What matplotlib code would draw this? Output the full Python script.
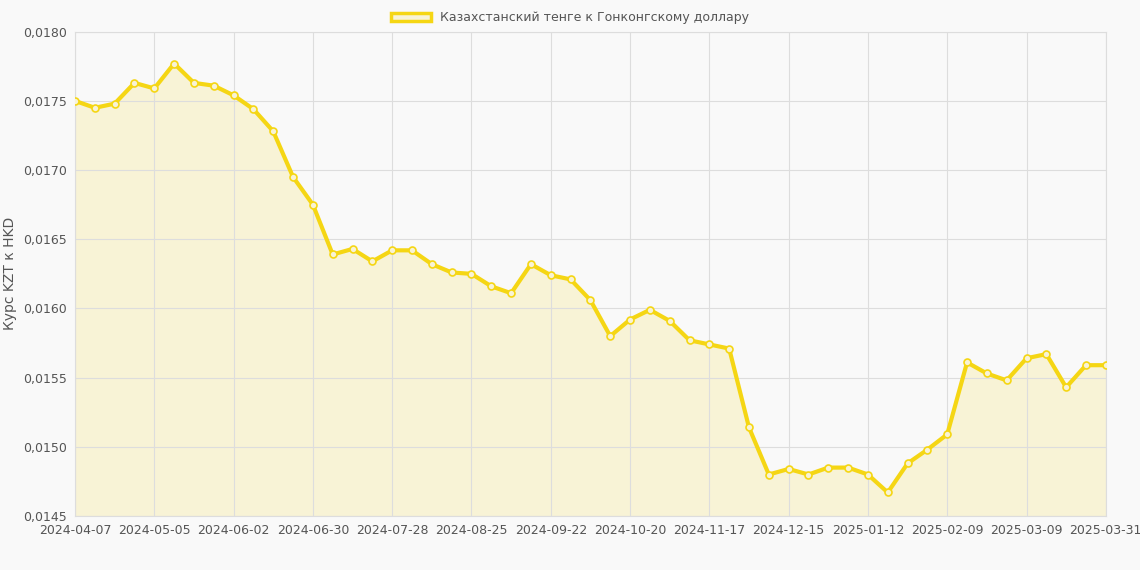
import matplotlib
matplotlib.use("Agg")
import matplotlib.pyplot as plt
from matplotlib.patches import Patch

values = [0.01750,0.01745,0.01748,0.01763,0.01759,0.01777,0.01763,0.01761,0.01754,0.01744,
          0.01728,0.01695,0.01675,0.01639,0.01643,0.01634,0.01642,0.01642,0.01632,0.01626,
          0.01625,0.01616,0.01611,0.01632,0.01624,0.01621,0.01606,0.01580,0.01592,0.01599,
          0.01591,0.01577,0.01574,0.01571,0.01514,0.01480,0.01484,0.01480,0.01485,0.01485,
          0.01480,0.01467,0.01488,0.01498,0.01509,0.01561,0.01553,0.01548,0.01564,0.01567,
          0.01543,0.01559,0.01559]
tick_labels = ["2024-04-07","2024-05-05","2024-06-02","2024-06-30","2024-07-28","2024-08-25",
               "2024-09-22","2024-10-20","2024-11-17","2024-12-15","2025-01-12","2025-02-09",
               "2025-03-09","2025-03-31"]
yticks = [0.0145,0.0150,0.0155,0.0160,0.0165,0.0170,0.0175,0.0180]
label = "Казахстанский тенге к Гонконгскому доллару"

line_c = "#F5D614"
fill_c = "#F8F3D6"
bg = "#F9F9F9"

fig = plt.figure(figsize=(11.4,5.7), dpi=100, facecolor=bg)
ax = fig.add_axes([0.0658,0.0947,0.9042,0.8497], facecolor=bg)
x = list(range(len(values)))
ax.fill_between(x, values, 0.0145, color=fill_c, zorder=1)
ax.plot(x, values, color=line_c, lw=3, marker="o", ms=5, mfc=fill_c, mec=line_c, mew=1.2, zorder=3)
ax.set_xlim(0, len(values)-1)
ax.set_ylim(0.0145, 0.0180)
ax.set_xticks(list(range(0, len(values), 4)) + [len(values)-1] if (len(values)-1) % 4 else list(range(0, len(values), 4)))
ax.set_xticklabels(tick_labels)
ax.set_yticks(yticks)
ax.set_yticklabels([f"{v:.4f}".replace(".", ",") for v in yticks])
ax.grid(True, color="#DDDDDD", lw=0.8)
ax.tick_params(colors="#555555", labelsize=9, length=0, pad=6)
for s in ax.spines.values():
    s.set_color("#DDDDDD")
ax.set_ylabel("Курс KZT к HKD", color="#555555", fontsize=10)
fig.legend(handles=[Patch(facecolor=fill_c, edgecolor=line_c, lw=2.5)], labels=[label],
           loc="upper center", bbox_to_anchor=(0.5, 1.0), frameon=False, fontsize=9,
           handlelength=3.2, labelcolor="#555555")
fig.savefig("out.png", dpi=100, facecolor=bg)
